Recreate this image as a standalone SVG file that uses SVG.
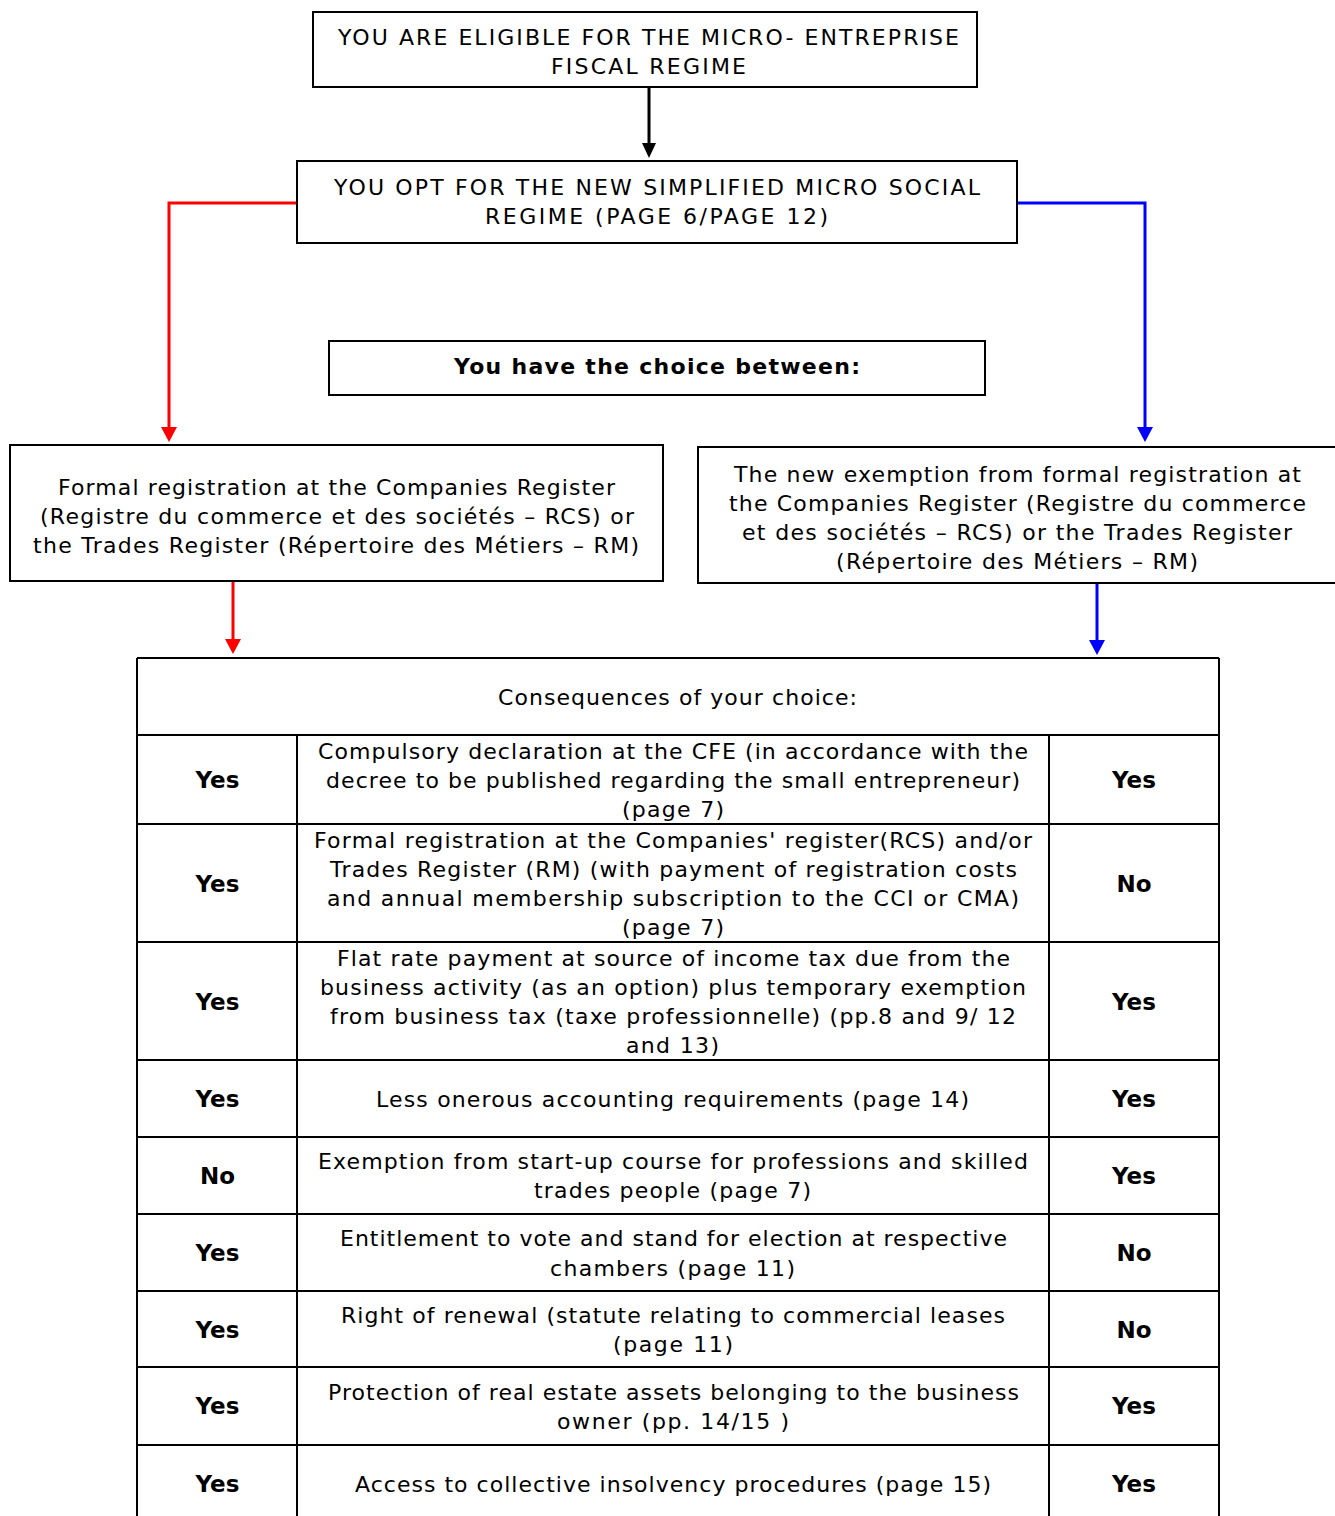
<svg xmlns="http://www.w3.org/2000/svg" width="1335" height="1516" viewBox="0 0 1335 1516">
<style>
text{font-family:"DejaVu Sans","Liberation Sans",sans-serif;font-size:22px;fill:#000;text-anchor:middle}
.b{font-weight:bold}
.yn{font-weight:bold;font-size:23px}
.box{fill:#fff;stroke:#000;stroke-width:2}
.grid{fill:none;stroke:#000;stroke-width:2}
.k{fill:none;stroke:#000;stroke-width:3}
.r{fill:none;stroke:#f00;stroke-width:3}
.bl{fill:none;stroke:#00f;stroke-width:3}
</style>
<g id="connectors">
<line class="k" x1="649" y1="87" x2="649" y2="146"/>
<polygon points="642,143 656,143 649,158" fill="#000"/>
<polyline class="r" points="297,203 169,203 169,428"/>
<polygon points="161,427 177,427 169,442" fill="#f00"/>
<polyline class="bl" points="1017,203 1145,203 1145,428"/>
<polygon points="1137,427 1153,427 1145,442" fill="#00f"/>
<line class="r" x1="233" y1="581" x2="233" y2="640"/>
<polygon points="225,639 241,639 233,654" fill="#f00"/>
<line class="bl" x1="1097" y1="584" x2="1097" y2="641"/>
<polygon points="1089,640 1105,640 1097,655" fill="#00f"/>
</g>
<g id="n1">
<rect class="box" x="313" y="12" width="664" height="75"/>
<text x="648.5" y="45" textLength="621" lengthAdjust="spacing">YOU ARE ELIGIBLE FOR THE MICRO- ENTREPRISE</text>
<text x="648.5" y="74" textLength="195" lengthAdjust="spacing">FISCAL REGIME</text>
</g>
<g id="n2">
<rect class="box" x="297" y="161" width="720" height="82"/>
<text x="657" y="195" textLength="646" lengthAdjust="spacing">YOU OPT FOR THE NEW SIMPLIFIED MICRO SOCIAL</text>
<text x="656.5" y="224" textLength="343" lengthAdjust="spacing">REGIME (PAGE 6/PAGE 12)</text>
</g>
<g id="n3">
<rect class="box" x="329" y="341" width="656" height="54"/>
<text class="b" x="657" y="374" textLength="406" lengthAdjust="spacing">You have the choice between:</text>
</g>
<g id="n4">
<rect class="box" x="10" y="445" width="653" height="136"/>
<text x="336.5" y="495" textLength="557" lengthAdjust="spacing">Formal registration at the Companies Register</text>
<text x="337" y="524" textLength="594" lengthAdjust="spacing">(Registre du commerce et des sociétés – RCS) or</text>
<text x="336" y="553" textLength="606" lengthAdjust="spacing">the Trades Register (Répertoire des Métiers – RM)</text>
</g>
<g id="n5">
<rect class="box" x="698" y="447" width="640" height="136"/>
<text x="1017.5" y="482" textLength="567" lengthAdjust="spacing">The new exemption from formal registration at</text>
<text x="1017.5" y="511" textLength="577" lengthAdjust="spacing">the Companies Register (Registre du commerce</text>
<text x="1017" y="540" textLength="550" lengthAdjust="spacing">et des sociétés – RCS) or the Trades Register</text>
<text x="1017" y="569" textLength="362" lengthAdjust="spacing">(Répertoire des Métiers – RM)</text>
</g>
<g id="table">
<path class="grid" d="M137,658 H1219 M137,658 V1520 M1219,658 V1520 M297,735 V1520 M1049,735 V1520 M137,735 H1219 M137,824 H1219 M137,942 H1219 M137,1060 H1219 M137,1137 H1219 M137,1214 H1219 M137,1291 H1219 M137,1367 H1219 M137,1445 H1219"/>
<text x="677.5" y="705" textLength="359" lengthAdjust="spacing">Consequences of your choice:</text>
<text class="yn" x="217.5" y="788">Yes</text>
<text class="yn" x="1134" y="788">Yes</text>
<text class="yn" x="217.5" y="892">Yes</text>
<text class="yn" x="1134" y="892">No</text>
<text class="yn" x="217.5" y="1010">Yes</text>
<text class="yn" x="1134" y="1010">Yes</text>
<text class="yn" x="217.5" y="1107">Yes</text>
<text class="yn" x="1134" y="1107">Yes</text>
<text class="yn" x="217.5" y="1184">No</text>
<text class="yn" x="1134" y="1184">Yes</text>
<text class="yn" x="217.5" y="1261">Yes</text>
<text class="yn" x="1134" y="1261">No</text>
<text class="yn" x="217.5" y="1338">Yes</text>
<text class="yn" x="1134" y="1338">No</text>
<text class="yn" x="217.5" y="1414">Yes</text>
<text class="yn" x="1134" y="1414">Yes</text>
<text class="yn" x="217.5" y="1492">Yes</text>
<text class="yn" x="1134" y="1492">Yes</text>
<text x="673" y="759" textLength="710" lengthAdjust="spacing">Compulsory declaration at the CFE (in accordance with the</text>
<text x="673" y="788" textLength="694" lengthAdjust="spacing">decree to be published regarding the small entrepreneur)</text>
<text x="673" y="817" textLength="102" lengthAdjust="spacing">(page 7)</text>
<text x="673" y="848" textLength="718" lengthAdjust="spacing">Formal registration at the Companies' register(RCS) and/or</text>
<text x="673.5" y="877" textLength="687" lengthAdjust="spacing">Trades Register (RM) (with payment of registration costs</text>
<text x="673" y="906" textLength="692" lengthAdjust="spacing">and annual membership subscription  to the CCI or CMA)</text>
<text x="673" y="935" textLength="102" lengthAdjust="spacing">(page 7)</text>
<text x="673.5" y="966" textLength="673" lengthAdjust="spacing">Flat rate payment at source of income tax due from the</text>
<text x="673" y="995" textLength="706" lengthAdjust="spacing">business activity (as an option) plus temporary exemption</text>
<text x="673" y="1024" textLength="686" lengthAdjust="spacing">from business tax (taxe professionnelle) (pp.8 and 9/ 12</text>
<text x="672.5" y="1053" textLength="93" lengthAdjust="spacing">and 13)</text>
<text x="672.5" y="1107" textLength="593" lengthAdjust="spacing">Less onerous accounting requirements (page 14)</text>
<text x="673" y="1169" textLength="710" lengthAdjust="spacing">Exemption from start-up course for professions and skilled</text>
<text x="672.5" y="1198" textLength="277" lengthAdjust="spacing">trades people (page 7)</text>
<text x="673.5" y="1246" textLength="667" lengthAdjust="spacing">Entitlement to vote and stand for election at respective</text>
<text x="672.5" y="1276" textLength="245" lengthAdjust="spacing">chambers (page 11)</text>
<text x="673" y="1323" textLength="664" lengthAdjust="spacing">Right of renewal (statute relating to commercial leases</text>
<text x="673" y="1352" textLength="120" lengthAdjust="spacing">(page 11)</text>
<text x="673.5" y="1400" textLength="691" lengthAdjust="spacing">Protection of real estate assets belonging to the business</text>
<text x="673" y="1429" textLength="232" lengthAdjust="spacing">owner (pp. 14/15 )</text>
<text x="673" y="1492" textLength="636" lengthAdjust="spacing">Access to collective insolvency procedures (page 15)</text>
</g>
</svg>
